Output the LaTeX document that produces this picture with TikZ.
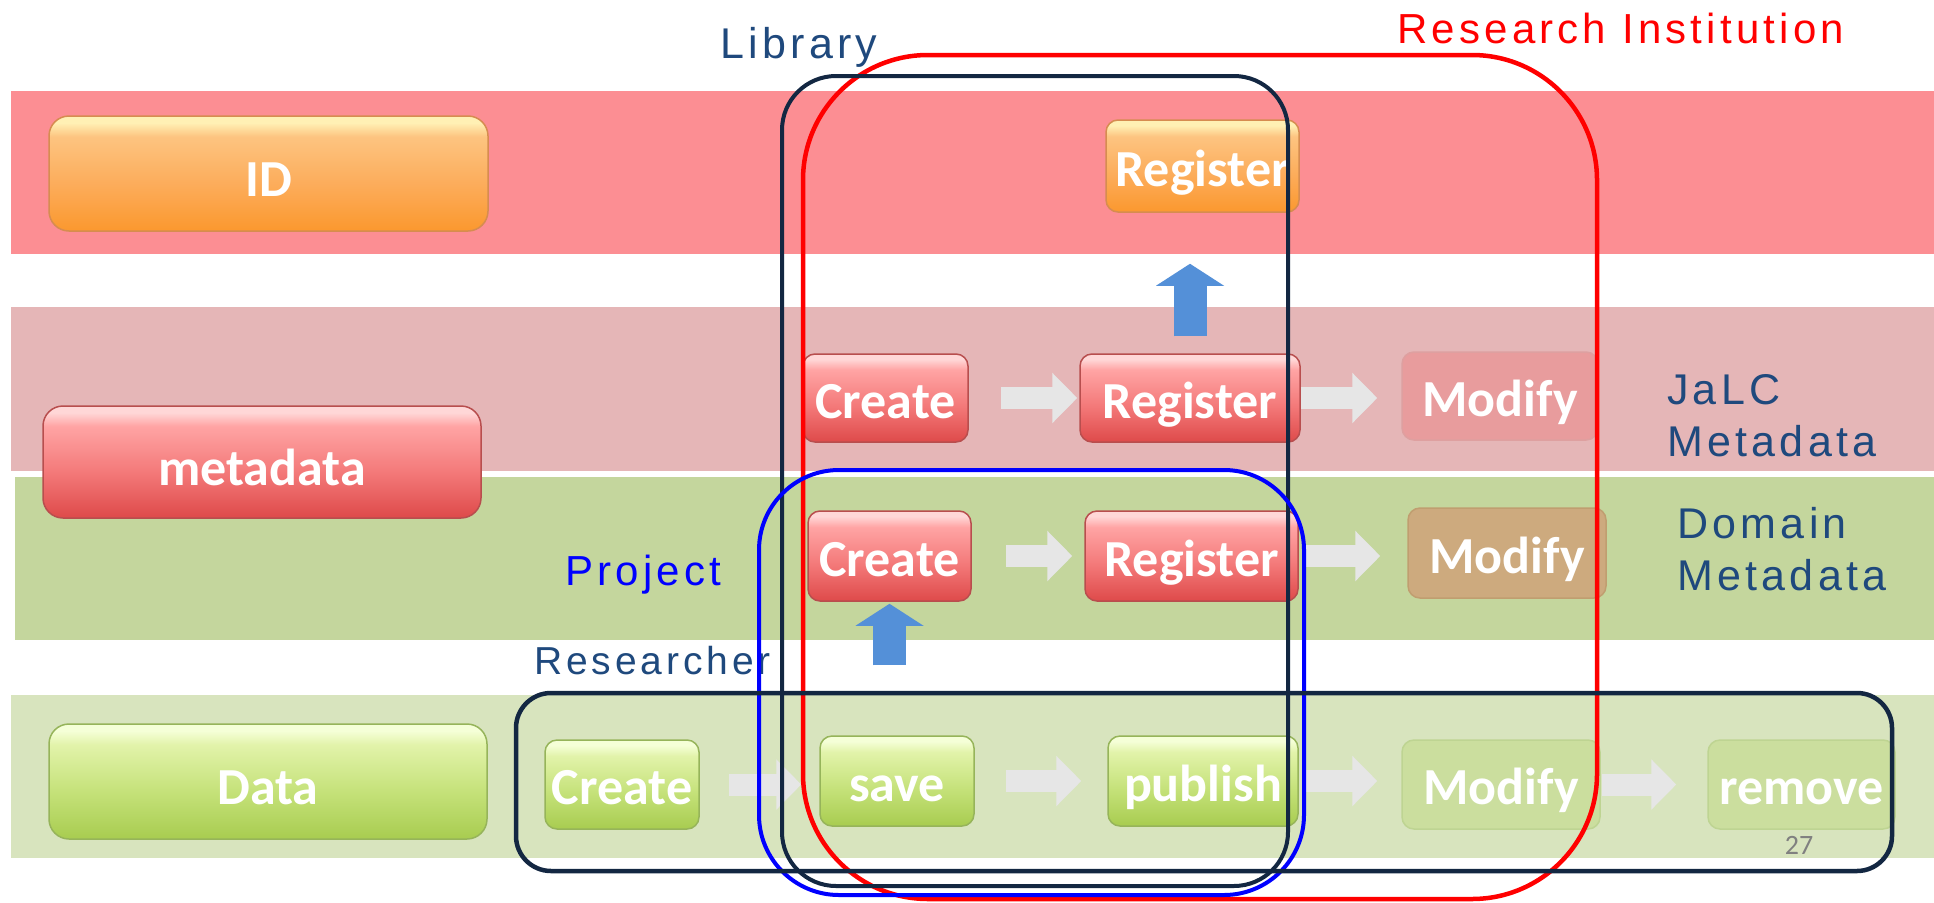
\documentclass[tikz,border=0pt]{standalone}
\usepackage{fontspec}
\setmainfont{Liberation Sans}
\newfontfamily\lblfont[LetterSpace=10]{Liberation Sans}
\newfontfamily\btnfont{Carlito}
\usetikzlibrary{arrows.meta}
\definecolor{bandID}{RGB}{252,142,147}
\definecolor{bandMeta}{RGB}{229,182,183}
\definecolor{bandDom}{RGB}{196,214,157}
\definecolor{bandData}{RGB}{216,228,190}
\definecolor{navy}{RGB}{19,39,66}
\definecolor{lblblue}{RGB}{31,73,125}
\definecolor{rT}{RGB}{255,164,164}
\definecolor{rM}{RGB}{243,120,120}
\definecolor{rB}{RGB}{222,74,74}
\definecolor{rH}{RGB}{255,215,215}
\definecolor{rBd}{RGB}{184,78,78}
\definecolor{oT}{RGB}{253,196,128}
\definecolor{oM}{RGB}{252,172,90}
\definecolor{oB}{RGB}{251,152,46}
\definecolor{oH}{RGB}{255,240,180}
\definecolor{oBd}{RGB}{214,140,80}
\definecolor{gT}{RGB}{226,243,170}
\definecolor{gM}{RGB}{196,225,120}
\definecolor{gB}{RGB}{168,204,80}
\definecolor{gH}{RGB}{245,255,215}
\definecolor{gBd}{RGB}{150,180,90}
\definecolor{fadeRed}{RGB}{232,156,157}
\definecolor{fadeRedBd}{RGB}{222,160,160}
\definecolor{fadeBrown}{RGB}{205,170,126}
\definecolor{fadeBrownBd}{RGB}{192,158,112}
\definecolor{fadeGreen}{RGB}{203,222,158}
\definecolor{fadeGreenBd}{RGB}{190,212,146}
\definecolor{arrowGray}{RGB}{230,230,230}
\definecolor{arrowBlue}{RGB}{84,144,216}
\definecolor{projBlue}{RGB}{0,0,255}
\pgfdeclareverticalshading{shRed}{100bp}{color(0bp)=(rB); color(25bp)=(rB); color(45bp)=(rM); color(66bp)=(rT); color(72bp)=(rH); color(100bp)=(rH)}
\pgfdeclareverticalshading{shOrange}{100bp}{color(0bp)=(oB); color(25bp)=(oB); color(45bp)=(oM); color(66bp)=(oT); color(72bp)=(oH); color(100bp)=(oH)}
\pgfdeclareverticalshading{shGreen}{100bp}{color(0bp)=(gB); color(25bp)=(gB); color(45bp)=(gM); color(66bp)=(gT); color(72bp)=(gH); color(100bp)=(gH)}
\tikzset{
  btn/.style={rectangle, rounded corners=12pt, inner sep=0pt, line width=1.5pt, text=white,
    text height=40pt, text depth=0pt,
    font=\btnfont\bfseries\fontsize{52}{60}\selectfont},
  bigbtn/.style={btn, rounded corners=20pt, text height=46pt},
  redbtn/.style={btn, shade, shading=shRed, draw=rBd},
  orgbtn/.style={btn, shade, shading=shOrange, draw=oBd},
  grnbtn/.style={btn, shade, shading=shGreen, draw=gBd},
  fadebtn/.style={btn, fill=#1, draw=#1Bd},
  grayarrow/.style={line width=22pt, arrowGray, -{Triangle[width=49pt,length=25pt]}},
  bluearrow/.style={line width=33pt, arrowBlue, -{Triangle[width=67pt,length=22pt]}},
  lbl/.style={inner sep=0pt, font=\lblfont\fontsize{43}{52}\selectfont, text=lblblue},
  encl/.style={line width=4.5pt, draw=#1},
}
\begin{document}
\begin{tikzpicture}[x=1pt,y=-1pt]
\useasboundingbox (0,0) rectangle (1934,902);
% bands
\fill[bandID] (11,91) rectangle (1934,254);
\fill[bandMeta] (11,307) rectangle (1934,471);
\fill[bandDom] (15,477) rectangle (1934,640);
\fill[bandData] (11,695) rectangle (1934,858);
% left column
\node[orgbtn, bigbtn, minimum width=439pt, minimum height=115pt] (idL) at (268.5,173.5) {ID};
\node[redbtn, bigbtn, minimum width=438pt, minimum height=112pt] (metaL) at (262,462) {metadata};
\node[grnbtn, bigbtn, minimum width=438pt, minimum height=115pt] (dataL) at (268,781.5) {Data};
% ID row
\node[orgbtn, minimum width=193pt, minimum height=92pt] (regID) at (1202.5,166) {Register};
% JaLC metadata row
\node[redbtn, minimum width=165pt, minimum height=88pt] (createM) at (885.5,398) {Create};
\node[redbtn, minimum width=220pt, minimum height=88pt] (regM) at (1190,398) {Register};
\node[fadebtn=fadeRed, minimum width=196pt, minimum height=88pt] (modM) at (1500,396) {Modify};
% Domain metadata row
\node[redbtn, minimum width=163pt, minimum height=90pt] (createD) at (889.5,556) {Create};
\node[redbtn, minimum width=213pt, minimum height=90pt] (regD) at (1191.5,556) {Register};
\node[fadebtn=fadeBrown, minimum width=198pt, minimum height=90pt] (modD) at (1507,553) {Modify};
% Data row
\node[grnbtn, minimum width=154pt, minimum height=89pt] (createX) at (622,784.5) {Create};
\node[grnbtn, minimum width=154pt, minimum height=90pt] (saveX) at (897,781) {save};
\node[grnbtn, minimum width=190pt, minimum height=90pt] (pubX) at (1203,781) {publish};
\node[fadebtn=fadeGreen, minimum width=198pt, minimum height=89pt] (modX) at (1501,784.5) {Modify};
\node[fadebtn=fadeGreen, minimum width=187pt, minimum height=89pt] (remX) at (1801.5,784.5) {remove};
% gray arrows
\draw[grayarrow, shorten <=32pt, shorten >=2pt] (createM.east) -- (regM.west);
\draw[grayarrow, shorten <=0pt, shorten >=24pt] (regM.east) -- (modM.west |- regM.east);
\draw[grayarrow, shorten <=34pt, shorten >=12pt] (createD.east) -- (regD.west);
\draw[grayarrow, shorten <=7pt, shorten >=27pt] (regD.east) -- (modD.west |- regD.east);
\draw[grayarrow, shorten <=29pt, shorten >=18pt] (createX.east) -- (saveX.west |- createX.east);
\draw[grayarrow, shorten <=31pt, shorten >=26pt] (saveX.east) -- (pubX.west);
\draw[grayarrow, shorten <=7pt, shorten >=24pt] (pubX.east) -- (modX.west |- pubX.east);
\draw[grayarrow, shorten <=1pt, shorten >=31pt] (modX.east) -- (remX.west);
% blue arrows
\draw[bluearrow, shorten <=17pt, shorten >=51pt] (regM.north) -- (regM.north |- regID.south);
\draw[bluearrow, shorten <=70pt, shorten >=2pt] (createD.south |- saveX.north) -- (createD.south);
% labels
\node[lbl, anchor=base west] (libT) at (720,58) {Library};
\node[lbl, anchor=base west, text=red, font=\lblfont\fontsize{42}{50}\selectfont] (riT) at (1397,43) {Research Institution};
\node[lbl, anchor=north west, align=left] (jalcT) at (1667,374) {JaLC\\Metadata};
\node[lbl, anchor=north west, align=left] (domT) at (1677,507) {Domain\\Metadata};
\node[lbl, anchor=base west, text=projBlue, font=\lblfont\fontsize{42}{50}\selectfont] (projT) at (565,585) {Project};
\node[lbl, anchor=base west, font=\lblfont\fontsize{39}{48}\selectfont] (resT) at (534,674) {Researcher};
\node[inner sep=0pt, text=gray, font=\btnfont\fontsize{28}{32}\selectfont] (pageNo) at (1799,845) {27};
% enclosures
\draw[encl=red, rounded corners=125pt] (803,55) rectangle (1597,899);
\draw[encl=navy, line width=4pt, rounded corners=54pt] (782,76) rectangle (1288,886);
\draw[encl=projBlue, line width=4pt, rounded corners=80pt] (759,470) rectangle (1304,895);
\draw[encl=navy, rounded corners=35pt] (516,693) rectangle (1892,871);
\end{tikzpicture}
\end{document}
